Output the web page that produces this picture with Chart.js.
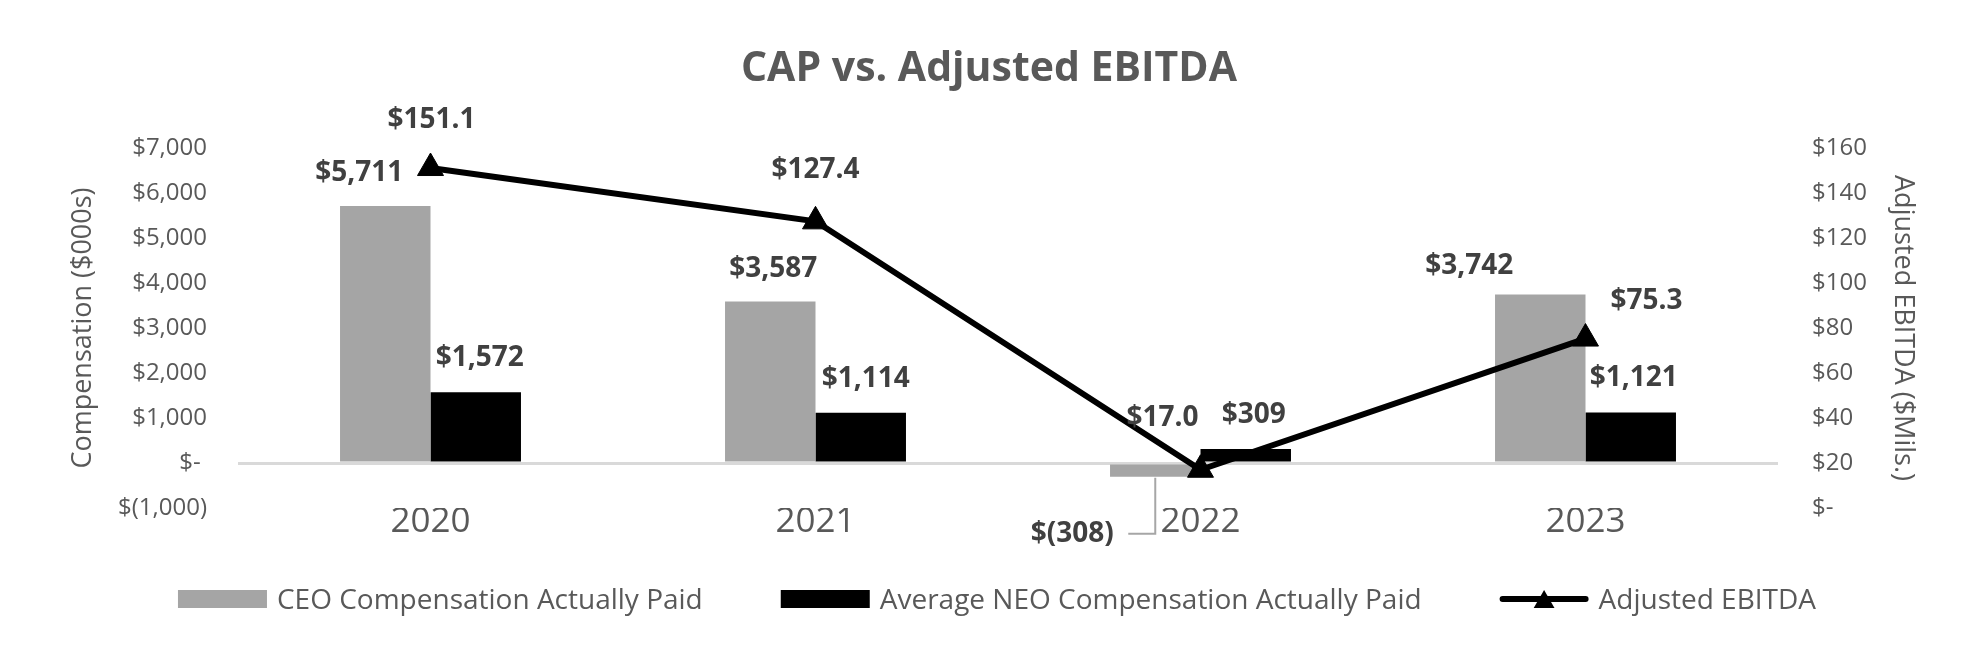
<!DOCTYPE html>
<html>
<head>
<meta charset="utf-8">
<script src="https://cdn.jsdelivr.net/npm/chart.js@4.4.1/dist/chart.umd.min.js"></script>
<style>
  html, body { margin: 0; padding: 0; background: #fff; }
</style>
</head>
<body>
<canvas id="capChart" width="1978" height="661"></canvas>
<script>
const years = ['2020', '2021', '2022', '2023'];
const ceoCap = [5711, 3587, -308, 3742];
const neoCap = [1572, 1114, 309, 1121];
const ebitda = [151.1, 127.4, 17.0, 75.3];
const compAxis = [-1000, 7000, 1000];   // min, max, step
const ebitdaAxis = [0, 160, 20];
const legendNames = ['CEO Compensation Actually Paid', 'Average NEO Compensation Actually Paid', 'Adjusted EBITDA'];

// where each value label sits relative to its bar top / point (px)
const labelShift = [
  [[-26, -33], [3, -33], [-83, 57], [-71, -29]],
  [[4, -34], [5, -34], [8, -34], [3, -35]],
  [[1, -48], [0, -51], [-38, -52], [61, -38]]
];

const grey = '#595959';

function money(v) {
  if (v === 0) return '$- ';
  const s = Math.abs(v).toLocaleString('en-US');
  return v < 0 ? '$(' + s + ')' : '$' + s;
}

function ebitdaTick(v) {
  return v === 0 ? '$-' : '$' + v;
}

function labelText(di, v) {
  return di === 2 ? '$' + v.toFixed(1) : money(v);
}

function drawTriangle(ctx, x, y, r) {
  ctx.beginPath();
  ctx.moveTo(x, y - r);
  ctx.lineTo(x + r * 0.866, y + r * 0.5);
  ctx.lineTo(x - r * 0.866, y + r * 0.5);
  ctx.closePath();
  ctx.fill();
}

const valueLabels = {
  id: 'valueLabels',
  afterDatasetsDraw(chart) {
    const ctx = chart.ctx;
    ctx.save();
    ctx.font = 'bold 28px "Open Sans"';
    ctx.fillStyle = '#404040';
    ctx.textAlign = 'center';
    ctx.textBaseline = 'middle';
    chart.data.datasets.forEach((ds, di) => {
      const meta = chart.getDatasetMeta(di);
      meta.data.forEach((el, i) => {
        const sh = labelShift[di][i];
        ctx.fillText(labelText(di, ds.data[i]), el.x + sh[0], el.y + sh[1]);
        // leader line for the negative bar label
        if (di === 0 && ds.data[i] < 0) {
          ctx.save();
          ctx.strokeStyle = '#A6A6A6';
          ctx.lineWidth = 2;
          ctx.beginPath();
          ctx.moveTo(el.x, el.y + 1);
          ctx.lineTo(el.x, el.y + sh[1]);
          ctx.lineTo(el.x - 27, el.y + sh[1]);
          ctx.stroke();
          ctx.restore();
        }
      });
    });
    ctx.restore();
  }
};

const titleAndLegend = {
  id: 'titleAndLegend',
  afterDraw(chart) {
    const ctx = chart.ctx;
    ctx.save();
    ctx.fillStyle = grey;
    ctx.textAlign = 'center';
    ctx.textBaseline = 'middle';
    ctx.font = 'bold 41px "Open Sans"';
    ctx.fillText('CAP vs. Adjusted EBITDA', chart.width / 2, 69);

    // legend
    ctx.font = '28px "Open Sans"';
    const boxW = 89, gapText = 10, gapItem = 78, y = 599;
    const widths = legendNames.map(t => boxW + gapText + ctx.measureText(t).width);
    const total = widths.reduce((a, b) => a + b, 0) + gapItem * (widths.length - 1);
    let x = 997 - total / 2;
    const colors = ['#A5A5A5', '#000000'];
    legendNames.forEach((name, i) => {
      if (i < 2) {
        ctx.fillStyle = colors[i];
        ctx.fillRect(x, y - 9, boxW, 18);
      } else {
        ctx.strokeStyle = '#000';
        ctx.lineWidth = 6;
        ctx.lineCap = 'round';
        ctx.beginPath();
        ctx.moveTo(x + 3, y);
        ctx.lineTo(x + boxW - 3, y);
        ctx.stroke();
        ctx.fillStyle = '#000';
        drawTriangle(ctx, x + boxW / 2, y + 3, 12);
      }
      ctx.fillStyle = grey;
      ctx.textAlign = 'left';
      ctx.fillText(name, x + boxW + gapText, y + 2);
      x += widths[i] + gapItem;
    });
    ctx.restore();
  }
};

Chart.defaults.font.family = '"Open Sans"';
Chart.defaults.color = grey;

function initChart() {
  const ctx = document.getElementById('capChart').getContext('2d');
  new Chart(ctx, {
    type: 'bar',
    data: {
      labels: years,
      datasets: [{
        label: legendNames[0],
        data: ceoCap,
        backgroundColor: '#A5A5A5',
        yAxisID: 'y',
        order: 1
      }, {
        label: legendNames[1],
        data: neoCap,
        backgroundColor: '#000000',
        yAxisID: 'y',
        order: 1
      }, {
        type: 'line',
        label: legendNames[2],
        data: ebitda,
        borderColor: '#000000',
        borderWidth: 6,
        pointStyle: 'triangle',
        pointRadius: 15,
        pointBackgroundColor: '#000000',
        pointBorderColor: '#000000',
        pointBorderWidth: 1,
        tension: 0,
        yAxisID: 'y1',
        order: 0
      }]
    },
    options: {
      responsive: false,
      animation: false,
      devicePixelRatio: 1,
      categoryPercentage: 0.47,
      barPercentage: 1,
      layout: { padding: { top: 148, bottom: 108, left: 0, right: 0 } },
      plugins: {
        legend: { display: false },
        tooltip: { enabled: false }
      },
      scales: {
        x: {
          grid: { display: false },
          border: { display: false },
          ticks: { font: { size: 35 }, color: grey, padding: -15 },
          afterFit(s) { s.height = 45; }
        },
        y: {
          position: 'left',
          min: compAxis[0],
          max: compAxis[1],
          ticks: { stepSize: compAxis[2], padding: 31, font: { size: 24 }, color: grey, callback: v => money(v) },
          grid: {
            drawTicks: false,
            lineWidth: 3,
            color: c => (c.tick && c.tick.value === 0) ? '#D9D9D9' : 'rgba(0,0,0,0)'
          },
          border: { display: false },
          title: { display: true, text: 'Compensation ($000s)', font: { size: 27 }, color: grey, padding: { top: 67, bottom: 0 } },
          afterFit(s) { s.width = 238; }
        },
        y1: {
          position: 'right',
          min: ebitdaAxis[0],
          max: ebitdaAxis[1],
          ticks: { stepSize: ebitdaAxis[2], padding: 34, font: { size: 24 }, color: grey, callback: v => ebitdaTick(v) },
          grid: { display: false, drawTicks: false },
          border: { display: false },
          title: { display: true, text: 'Adjusted EBITDA ($Mils.)', font: { size: 27 }, color: grey, padding: { top: 59, bottom: 0 } },
          afterFit(s) { s.width = 200; }
        }
      }
    },
    plugins: [valueLabels, titleAndLegend]
  });
}

window.onload = initChart;
</script>
</body>
</html>
